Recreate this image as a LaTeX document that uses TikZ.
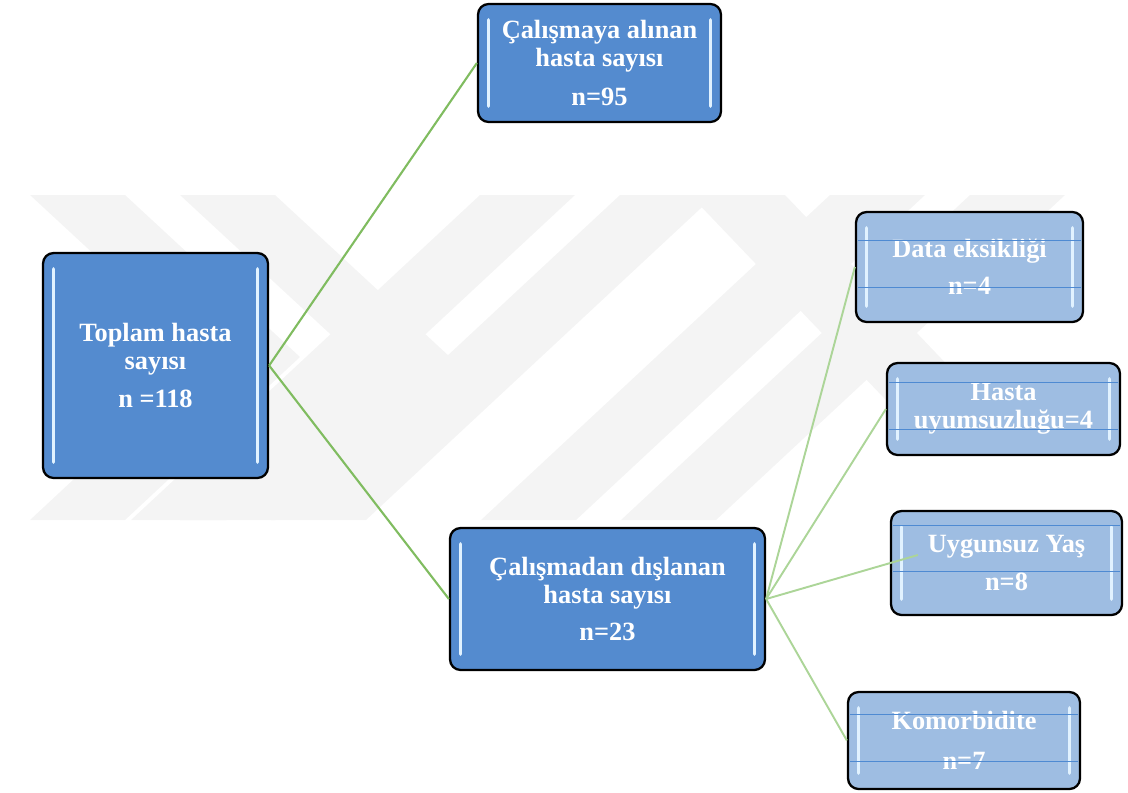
\documentclass[tikz,border=0pt]{standalone}
\usepackage{fontspec}
\setmainfont{Liberation Serif}

\definecolor{darkbox}{RGB}{84,139,207}
\definecolor{lightbox}{RGB}{158,189,226}
\definecolor{linkgreen}{RGB}{128,188,96}
\definecolor{linkpale}{RGB}{172,213,152}
\definecolor{glint}{RGB}{225,242,255}
\definecolor{rowblue}{RGB}{78,138,210}
\definecolor{wmgray}{gray}{0.955}

\begin{document}
\begin{tikzpicture}[x=0.02cm, y=-0.02cm,
        box/.style={draw=black, line width=1.3pt, rounded corners=6pt, text=white,
          font=\bfseries\fontsize{15}{16}\selectfont, align=center, inner sep=0pt,
          path picture={
            \draw[glint, line width=2pt, line cap=round]
              ([shift={(6pt,-9pt)}]path picture bounding box.north west) --
              ([shift={(6pt,9pt)}]path picture bounding box.south west);
            \draw[glint, line width=2pt, line cap=round]
              ([shift={(-6pt,-9pt)}]path picture bounding box.north east) --
              ([shift={(-6pt,9pt)}]path picture bounding box.south east);
          }},
        mainbox/.style={box, fill=darkbox},
        subbox/.style={box, fill=lightbox},
        link/.style={linkgreen, line width=1.2pt},
        sublink/.style={linkpale, line width=1.1pt},
        rowline/.style={rowblue, line width=0.5pt}]
        \useasboundingbox (0,0) rectangle (1128,792);

        % watermark
        \foreach \s in {0, 150}
        \fill[wmgray, xshift=\s*0.02cm] (30,195) -- (125,195) -- (300,357) -- (125,520)
          -- (30,520) -- (205,357) -- cycle;
        \foreach \t in {480, 620, 830, 970}
        \fill[wmgray] (\t,195) -- (\t+95,195) -- (\t-254,520) -- (\t-349,520) -- cycle;
        \fill[wmgray] (690,195) -- (785,195) -- (1000,420) -- (905,420) -- cycle;

        \node[mainbox, minimum width=4.5cm, minimum height=4.5cm] (toplam) at (155.5,365.5)
          {Toplam hasta\\sayısı\\[5.5pt] n =118};
        \node[mainbox, minimum width=4.86cm, minimum height=2.36cm] (alinan) at (599.5,63)
          {Çalışmaya alınan\\hasta sayısı\\[6.5pt] n=95};
        \node[mainbox, minimum width=6.3cm, minimum height=2.84cm] (dislanan) at (607.5,599)
          {Çalışmadan dışlanan\\hasta sayısı\\[5.5pt] n=23};

        \node[subbox, minimum width=4.54cm, minimum height=2.2cm] (data) at (969.5,267)
          {Data eksikliği\\[5pt] n=4};
        \node[subbox, minimum width=4.66cm, minimum height=1.84cm] (uyum) at (1003.5,409)
          {Hasta\\uyumsuzluğu=4};
        \node[subbox, minimum width=4.62cm, minimum height=2.08cm] (yas) at (1006.5,563)
          {Uygunsuz Yaş\\[5.5pt] n=8};
        \node[subbox, minimum width=4.64cm, minimum height=1.94cm] (komor) at (964,740.5)
          {Komorbidite\\[7pt] n=7};

        \foreach \b/\ya/\yb in {data/240/287, uyum/382/429, yas/525/571, komor/714/761}
        {
          \draw[rowline] ([xshift=2pt]\b.west |- 0,\ya) -- ([xshift=-2pt]\b.east |- 0,\ya);
          \draw[rowline] ([xshift=2pt]\b.west |- 0,\yb) -- ([xshift=-2pt]\b.east |- 0,\yb);
        }

        \draw[link] (toplam.east) -- (alinan.west);
        \draw[link] (toplam.east) -- (dislanan.west);
        \foreach \b in {data, uyum, komor}
        \draw[sublink] (dislanan.east) -- (\b.west);
        \draw[sublink] (dislanan.east) -- ([shift={(28,-8)}]yas.west);
      \end{tikzpicture}
\end{document}
